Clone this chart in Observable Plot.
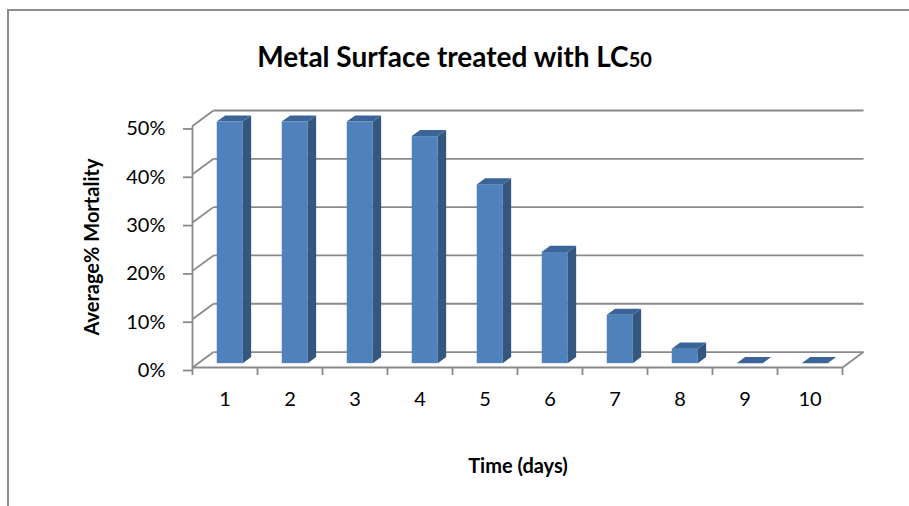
<!DOCTYPE html>
<html>
<head>
<meta charset="utf-8">
<script src="https://cdn.jsdelivr.net/npm/d3@7"></script>
<script src="https://cdn.jsdelivr.net/npm/@observablehq/plot@0.6"></script>
<style>
  html, body { margin: 0; padding: 0; background: #fff; }
  #wrap { position: relative; width: 909px; height: 506px; overflow: hidden; font-family: Lato, "Open Sans", sans-serif; }
  #border { position: absolute; left: 7px; top: 9px; width: 940px; height: 540px; border-left: 2px solid #8e8e8e; border-top: 2px solid #8e8e8e; }
  #title { position: absolute; left: 0; top: 42px; width: 909px; text-align: center; font-weight: bold; font-size: 28px; line-height: 1; color: #000; }
  #title span { font-size: 20px; }
  #chart { position: absolute; left: 0; top: 0; }
</style>
</head>
<body>
<div id="wrap">
  <div id="border"></div>
  <div id="chart"></div>
  <div id="title">Metal Surface treated with LC<span>50</span></div>
</div>
<script>
// ---- data ----
const days = [1, 2, 3, 4, 5, 6, 7, 8, 9, 10];
const mortality = [50, 50, 50, 47, 37, 23, 10, 3, 0, 0];
const yTicks = [0, 10, 20, 30, 40, 50];
const xLabels = ["1", "2", "3", "4", "5", "6", "7", "8", "9", "10"];
const yTitle = "Average% Mortality";
const xTitle = "Time (days)";

// ---- 3D depth parameters (in data units) ----
const DX = 0.323;   // depth offset along x (category units)
const DY = 3.2;     // depth offset along y (percent units)
const F0 = 0.25, F1 = 0.65; // bar front/back depth fractions
const HW = 0.2;     // half bar width

const xMin = days[0] - 0.5;
const xMax = days[days.length - 1] + 0.5;
const yMax = yTicks[yTicks.length - 1];
const bounds = d3.range(xMin, xMax + 0.01, 1);

const bars = days.map((d, i) => ({day: d, v: mortality[i]}));
const sideData = bars.flatMap(b => [
  {day: b.day, x: b.day + HW + F0 * DX, y1: F0 * DY, y2: b.v + F0 * DY},
  {day: b.day, x: b.day + HW + F1 * DX, y1: F1 * DY, y2: b.v + F1 * DY}
]);
const topData = bars.flatMap(b => [
  {day: b.day, y: b.v + F0 * DY, x1: b.day - HW + F0 * DX, x2: b.day + HW + F0 * DX},
  {day: b.day, y: b.v + F1 * DY, x1: b.day - HW + F1 * DX, x2: b.day + HW + F1 * DX}
]);

const grid = "#8a8a8a";
const gw = 1.8;

const plot = Plot.plot({
  width: 909,
  height: 506,
  marginLeft: 192,
  marginRight: 46,
  marginTop: 110,
  marginBottom: 139,
  style: {fontFamily: "Lato, 'Open Sans', sans-serif", fontSize: "20px", color: "#000", background: "transparent"},
  x: {type: "linear", domain: [xMin, xMax + DX]},
  y: {domain: [0, yMax + DY]},
  marks: [
    // back wall gridlines
    Plot.link(yTicks, {x1: () => xMin + DX, x2: () => xMax + DX, y1: v => v + DY, y2: v => v + DY, stroke: grid, strokeWidth: gw}),
    // left wall diagonals
    Plot.link(yTicks, {x1: () => xMin, x2: () => xMin + DX, y1: v => v, y2: v => v + DY, stroke: grid, strokeWidth: gw}),
    // front vertical axis line
    Plot.link([0], {x1: () => xMin, x2: () => xMin, y1: () => 0, y2: () => yMax, stroke: grid, strokeWidth: gw}),
    // floor front edge & right edge
    Plot.link([0], {x1: () => xMin, x2: () => xMax, y1: () => 0, y2: () => 0, stroke: grid, strokeWidth: gw}),
    Plot.link([0], {x1: () => xMax, x2: () => xMax + DX, y1: () => 0, y2: () => DY, stroke: grid, strokeWidth: gw}),
    // bars: front faces
    Plot.rect(bars, {x1: b => b.day - HW + F0 * DX, x2: b => b.day + HW + F0 * DX, y1: () => F0 * DY, y2: b => b.v + F0 * DY, fill: "#4F81BD"}),
    // side faces
    Plot.areaY(sideData, {x: "x", y1: "y1", y2: "y2", z: "day", fill: "#34577F"}),
    // top faces
    Plot.areaX(topData, {y: "y", x1: "x1", x2: "x2", z: "day", fill: "#3B6598"}),
    // axes
    Plot.axisY(yTicks, {tickSize: 9, tickPadding: 18, tickFormat: d => d + "%", stroke: grid, strokeWidth: gw, fontSize: 20, dy: 3, label: null}),
    Plot.axisX(bounds, {tickSize: 8, tickFormat: () => "", stroke: grid, strokeWidth: gw, label: null}),
    Plot.axisX(days, {tickSize: 0, tickPadding: 24, tickFormat: d => xLabels[days.indexOf(d)], fontSize: 20, label: null}),
    // axis titles
    Plot.text([yTitle], {frameAnchor: "left", textAnchor: "middle", lineAnchor: "middle", dx: -100, dy: 8, rotate: -90, fontWeight: "bold", fontSize: 20}),
    Plot.text([xTitle], {frameAnchor: "bottom", textAnchor: "middle", lineAnchor: "middle", dx: -10, dy: 99, fontWeight: "bold", fontSize: 20})
  ]
});
document.getElementById("chart").appendChild(plot);
</script>
</body>
</html>
